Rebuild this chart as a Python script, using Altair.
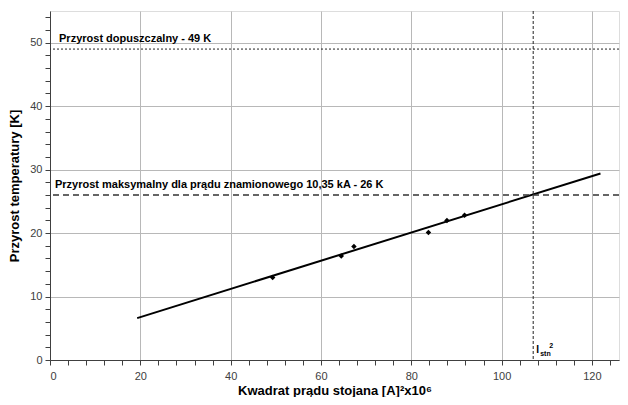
import altair as alt
import pandas as pd

# measured points
meas_x = [49.3, 64.5, 67.3, 83.8, 87.9, 91.8]
meas_y = [13.0, 16.4, 17.9, 20.1, 22.0, 22.8]

# fitted trend line end points
trend_x = [19.3, 121.9]
trend_y = [6.6, 29.4]

limit_allowed = 49
limit_max = 26
istn_sq = 107.0

label_allowed = "Przyrost dopuszczalny - 49 K"
label_max = "Przyrost maksymalny dla prądu znamionowego 10,35 kA - 26 K"

x_title = "Kwadrat prądu stojana [A]²x10⁶"
y_title = "Przyrost temperatury [K]"

FONT = "Liberation Sans"

xs = alt.Scale(domain=[0, 126], nice=False, zero=False)
ys = alt.Scale(domain=[0, 55], nice=False, zero=False)

x_axis = alt.Axis(
    values=list(range(0, 127, 4)),
    labelExpr="datum.value % 20 === 0 ? datum.label : ''",
    labelOverlap=False,
    gridOpacity={"condition": {"test": "datum.value % 20 === 0", "value": 1}, "value": 0},
    gridColor="#b8b8b8",
    domainColor="#404040",
    tickColor="#404040",
    tickSize=5,
    labelColor="#404040",
    labelFont=FONT,
    labelFontSize=11,
    labelPadding=5,
    title=x_title,
    titleFont=FONT,
    titleFontSize=13,
    titleFontWeight="bold",
    titleColor="#000000",
    titlePadding=3,
)
y_axis = alt.Axis(
    values=list(range(0, 55, 2)),
    labelExpr="datum.value % 10 === 0 ? datum.label : ''",
    labelOverlap=False,
    gridOpacity={"condition": {"test": "datum.value % 10 === 0", "value": 1}, "value": 0},
    gridColor="#b8b8b8",
    domainColor="#404040",
    tickColor="#404040",
    tickSize=5,
    labelColor="#404040",
    labelFont=FONT,
    labelFontSize=11,
    labelPadding=3,
    title=y_title,
    titleFont=FONT,
    titleFontSize=13,
    titleFontWeight="bold",
    titleColor="#000000",
    titlePadding=8,
)

X = alt.X("x:Q", scale=xs, axis=x_axis)
Y = alt.Y("y:Q", scale=ys, axis=y_axis)

pts = pd.DataFrame({"x": meas_x, "y": meas_y})
trend = pd.DataFrame({"x": trend_x, "y": trend_y})

base_line = alt.Chart(trend).mark_line(color="black", strokeWidth=2).encode(x=X, y=Y)

points = alt.Chart(pts).mark_point(shape="diamond", filled=True, color="black", size=30, opacity=1).encode(x=X, y=Y)

rule_allowed = alt.Chart(pd.DataFrame({"y": [limit_allowed]})).mark_rule(
    color="#222222", strokeWidth=1, strokeDash=[2, 2]
).encode(y=Y)

rule_max = alt.Chart(pd.DataFrame({"y": [limit_max]})).mark_rule(
    color="#333333", strokeWidth=1.5, strokeDash=[6, 4]
).encode(y=Y)

rule_istn = alt.Chart(pd.DataFrame({"x": [istn_sq]})).mark_rule(
    color="#222222", strokeWidth=1, strokeDash=[3, 2]
).encode(x=X)

txt_allowed = alt.Chart(pd.DataFrame({"x": [2.0], "y": [limit_allowed], "t": [label_allowed]})).mark_text(
    align="left", baseline="bottom", dy=-5, font=FONT, fontSize=11, fontWeight="bold", color="#000000"
).encode(x=X, y=Y, text="t:N")

txt_max = alt.Chart(pd.DataFrame({"x": [1.1], "y": [limit_max], "t": [label_max]})).mark_text(
    align="left", baseline="bottom", dy=-5, font=FONT, fontSize=11, fontWeight="bold", color="#000000"
).encode(x=X, y=Y, text="t:N")

lab_parts = pd.DataFrame({
    "x": [istn_sq, istn_sq, istn_sq],
    "y": [0.0, 0.0, 0.0],
    "t": ["I", "stn", "2"],
    "dx": [3, 7, 16],
    "dy": [-5, -3, -11],
    "fs": [10, 7, 7],
})
lab_layers = []
for i in range(3):
    r = lab_parts.iloc[[i]]
    lab_layers.append(
        alt.Chart(r).mark_text(
            align="left", baseline="bottom", dx=int(r["dx"].iloc[0]), dy=int(r["dy"].iloc[0]),
            font=FONT, fontSize=int(r["fs"].iloc[0]), fontWeight="bold", color="#000000"
        ).encode(x=X, y=Y, text="t:N")
    )

chart = alt.layer(
    base_line, rule_allowed, rule_max, rule_istn, points, txt_allowed, txt_max, *lab_layers
).properties(
    width=612, height=389,
    autosize=alt.AutoSizeParams(type="fit", contains="padding"),
    padding={"left": 0, "top": 2, "right": 0, "bottom": 0},
).configure_view(stroke="#888888", strokeWidth=1).configure(background="white")

chart.save("out.html", embed_options={"renderer": "svg", "actions": False})
